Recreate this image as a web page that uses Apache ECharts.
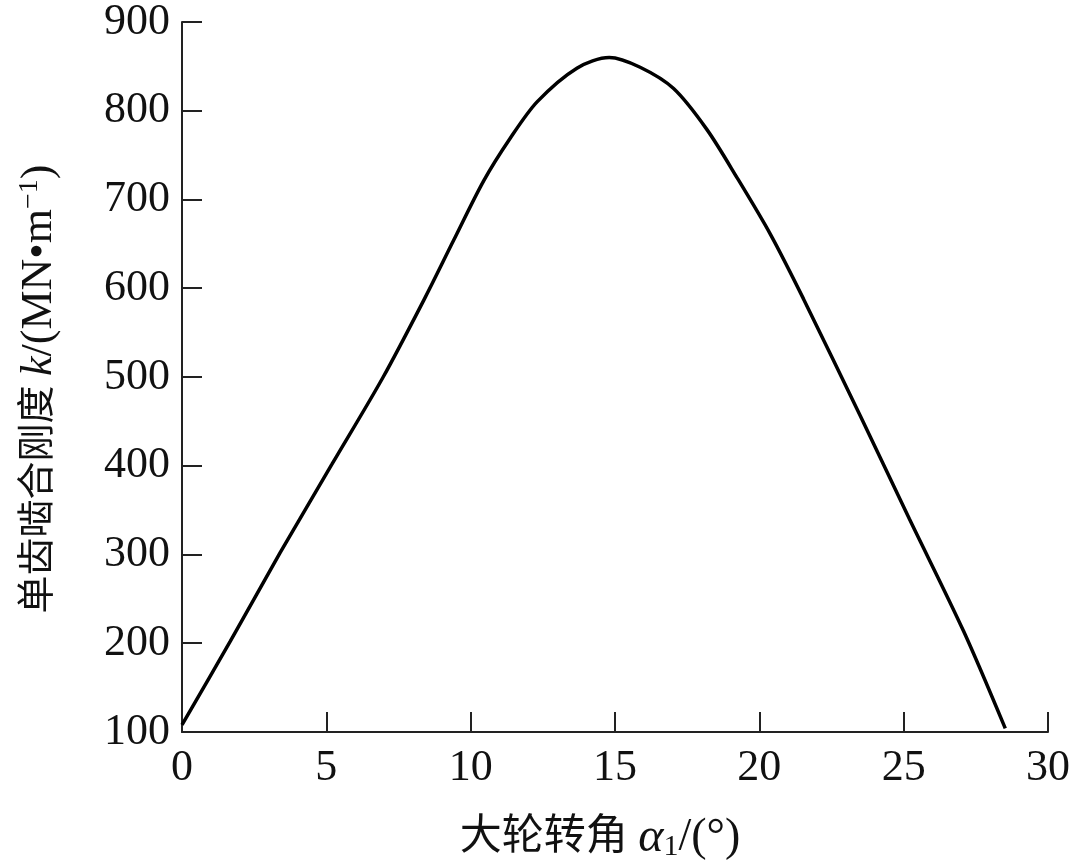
<!DOCTYPE html>
<html>
<head>
<meta charset="utf-8">
<script src="https://cdn.jsdelivr.net/npm/echarts@6/dist/echarts.min.js"></script>
<style>html,body{margin:0;padding:0;background:#fff;overflow:hidden}#c{width:1085px;height:867px}</style>
</head>
<body>
<div id="c"></div>
<script>
const xTicks = [0, 5, 10, 15, 20, 25, 30];
const yTicks = [100, 200, 300, 400, 500, 600, 700, 800, 900];
const angleDeg = [0, 1.67, 3.4, 5.2, 6.97, 8.43, 9.41, 10.45, 11.37, 12.3, 13.68, 14.8, 15.87, 17.03, 18.18, 19.22, 20.38, 21.53, 23.5, 25.2, 27.07, 28.52];
const stiffness = [108, 202, 302, 402, 500, 590, 654, 721, 769, 810, 848, 860, 849, 825, 779, 725, 661, 588, 456, 340, 214, 104];

const serif = '"Liberation Serif", "Times New Roman", "Noto Sans CJK SC", serif';
const chart = echarts.init(document.getElementById('c'), null, {renderer: 'canvas'});
chart.setOption({
  animation: false,
  backgroundColor: '#fff',
  grid: {left: 182, right: 37, top: 20, bottom: 125, containLabel: false},
  xAxis: {
    type: 'value', min: xTicks[0], max: xTicks[xTicks.length - 1], interval: 5,
    splitLine: {show: false},
    axisLine: {lineStyle: {color: '#222', width: 2}},
    axisTick: {inside: true, length: 20, lineStyle: {color: '#222', width: 2}},
    axisLabel: {fontFamily: serif, fontSize: 44, color: '#111', margin: 14},
    name: '大轮转角 {i|α}{sub|1}{l|/(°)}',
    nameLocation: 'middle', nameGap: 82,
    nameTextStyle: {
      fontFamily: serif, fontSize: 42, color: '#111', padding: [0, 30, 0, 0],
      rich: {
        i: {fontFamily: serif, fontStyle: 'italic', fontSize: 48, color: '#111'},
        l: {fontFamily: serif, fontSize: 46, color: '#111'},
        sub: {fontFamily: serif, fontSize: 30, color: '#111', verticalAlign: 'bottom', padding: [16, 0, 0, 0]}
      }
    }
  },
  yAxis: {
    type: 'value', min: yTicks[0], max: yTicks[yTicks.length - 1], interval: 100,
    splitLine: {show: false},
    axisLine: {lineStyle: {color: '#222', width: 2}},
    axisTick: {inside: true, length: 20, lineStyle: {color: '#222', width: 2}},
    axisLabel: {fontFamily: serif, fontSize: 44, color: '#111', margin: 12},
    name: '单齿啮合刚度 {i|k}{l|/(MN•m}{sup|−1}{l|)}',
    nameLocation: 'middle', nameGap: 120, nameRotate: 90,
    nameTextStyle: {
      fontFamily: serif, fontSize: 38, color: '#111', padding: [0, 24, 0, 0],
      rich: {
        i: {fontFamily: serif, fontStyle: 'italic', fontSize: 44, color: '#111'},
        l: {fontFamily: serif, fontSize: 44, color: '#111'},
        sup: {fontFamily: serif, fontSize: 28, color: '#111', verticalAlign: 'top', padding: [0, 0, 18, 0]}
      }
    }
  },
  series: [{
    type: 'line',
    data: angleDeg.map((a, i) => [a, stiffness[i]]),
    smooth: 0.3,
    showSymbol: false,
    lineStyle: {color: '#000', width: 3.5}
  }]
});
</script>
</body>
</html>
